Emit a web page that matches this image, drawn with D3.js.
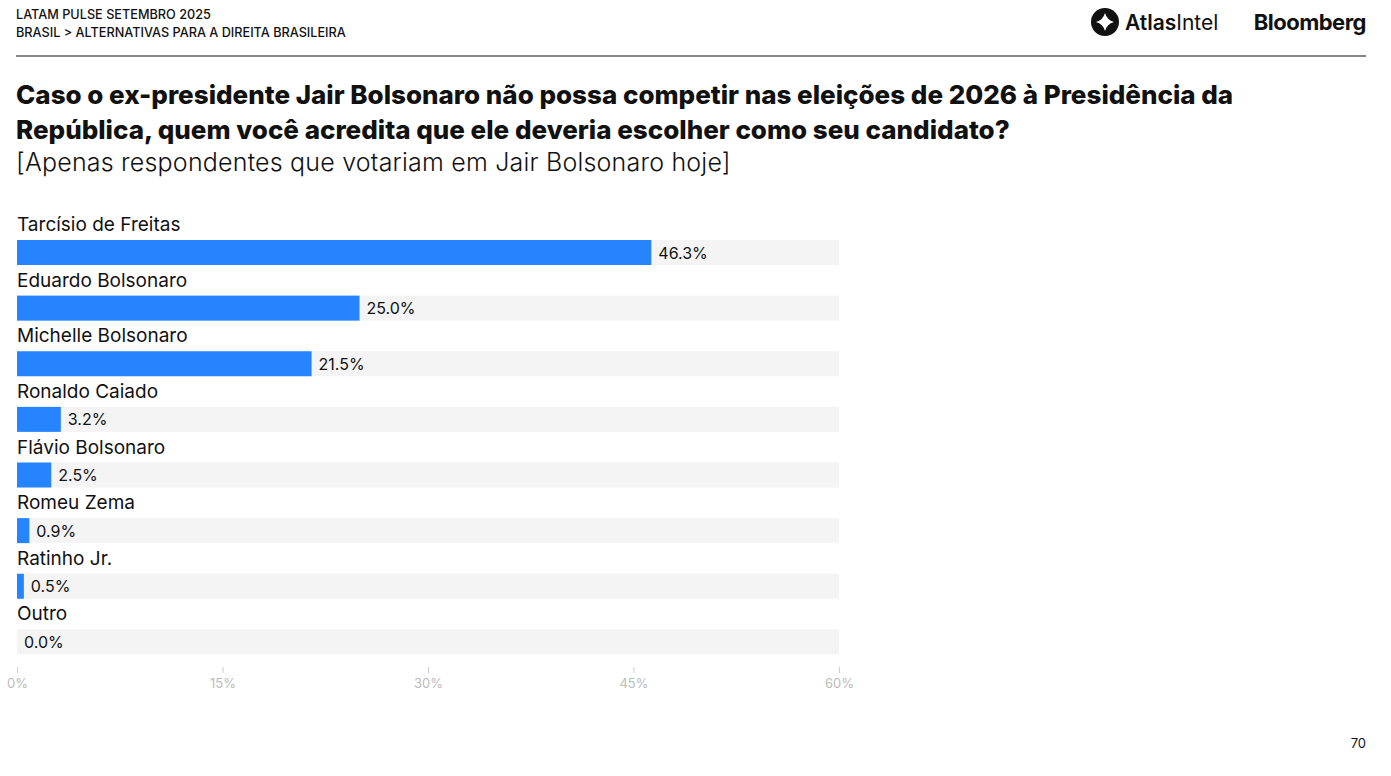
<!DOCTYPE html>
<html>
<head>
<meta charset="utf-8">
<script src="https://cdn.jsdelivr.net/npm/d3@7"></script>
<style>
  body { margin: 0; background: #fff; }
  svg { font-family: Inter, "Noto Sans", sans-serif; }
</style>
</head>
<body>
<div id="container"></div>
<script>
let w = 1391;
let h = 776;

// DATA
let candidates = ["Tarcísio de Freitas", "Eduardo Bolsonaro", "Michelle Bolsonaro", "Ronaldo Caiado",
  "Flávio Bolsonaro", "Romeu Zema", "Ratinho Jr.", "Outro"];
let shares = [46.3, 25.0, 21.5, 3.2, 2.5, 0.9, 0.5, 0.0];
let ticks = [0, 15, 30, 45, 60];

let viz = d3.select("#container").append("svg")
    .attr("width", w)
    .attr("height", h)
    .style("background-color", "white");

// HEADER
viz.append("text").attr("x", 16).attr("y", 19).attr("font-size", 12.7).attr("font-weight", 500)
  .attr("fill", "#111").text("LATAM PULSE SETEMBRO 2025");
viz.append("text").attr("x", 16).attr("y", 37).attr("font-size", 12.7).attr("font-weight", 500)
  .attr("fill", "#111").text("BRASIL > ALTERNATIVAS PARA A DIREITA BRASILEIRA");
viz.append("line").attr("x1", 16).attr("x2", 1366).attr("y1", 56).attr("y2", 56)
  .attr("stroke", "#888").attr("stroke-width", 2);

// logos
let logo = viz.append("g").attr("transform", "translate(1105,22)");
logo.append("circle").attr("r", 14).attr("fill", "#111");
logo.append("path")
  .attr("d", "M0,-9 Q2,-2 9,0 Q2,2 0,9 Q-2,2 -9,0 Q-2,-2 0,-9Z")
  .attr("fill", "white");
let atlas = viz.append("text").attr("x", 1125).attr("y", 30).attr("font-size", 21).attr("fill", "#111");
atlas.append("tspan").attr("font-weight", 600).text("Atlas");
atlas.append("tspan").attr("font-weight", 400).text("Intel");
viz.append("text").attr("x", 1366).attr("y", 30).attr("text-anchor", "end").attr("font-size", 22)
  .attr("font-weight", 700).attr("fill", "#111").attr("letter-spacing", -0.5).text("Bloomberg");

// TITLE
viz.append("text").attr("x", 16).attr("y", 104).attr("font-size", 26).attr("font-weight", 800)
  .attr("fill", "#111").attr("letter-spacing", 0)
  .text("Caso o ex-presidente Jair Bolsonaro não possa competir nas eleições de 2026 à Presidência da");
viz.append("text").attr("x", 16).attr("y", 139).attr("font-size", 26).attr("font-weight", 800)
  .attr("fill", "#111").attr("letter-spacing", 0)
  .text("República, quem você acredita que ele deveria escolher como seu candidato?");
viz.append("text").attr("x", 16).attr("y", 171).attr("font-size", 25).attr("font-weight", 300)
  .attr("fill", "#111").attr("letter-spacing", 0.2)
  .text("[Apenas respondentes que votariam em Jair Bolsonaro hoje]");

// SCALES
let xScale = d3.scaleLinear().domain([0, 60]).range([17, 839]);
let yScale = d3.scaleBand().domain(candidates).range([212, 657]).paddingInner(0).paddingOuter(0);
let barH = 25;
let barOff = 28;

let rows = viz.selectAll(".row").data(candidates).enter().append("g")
  .attr("class", "row")
  .attr("transform", function(d){ return "translate(0," + yScale(d) + ")"; });

rows.append("rect")
  .attr("x", xScale(0)).attr("y", barOff)
  .attr("width", xScale(60) - xScale(0)).attr("height", barH)
  .attr("fill", "#f4f4f4");

rows.append("rect")
  .attr("x", xScale(0)).attr("y", barOff)
  .attr("width", function(d, i){ return xScale(shares[i]) - xScale(0); })
  .attr("height", barH)
  .attr("fill", "#2684ff");

rows.append("text")
  .attr("x", 17).attr("y", 19)
  .attr("font-size", 19).attr("fill", "#111")
  .text(function(d){ return d; });

rows.append("text")
  .attr("x", function(d, i){ return xScale(shares[i]) + 7; })
  .attr("y", barOff + barH / 2 + 6)
  .attr("font-size", 16).attr("fill", "#111")
  .text(function(d, i){ return shares[i].toFixed(1) + "%"; });

// AXIS
let axis = viz.append("g").attr("transform", "translate(0,667)")
  .call(d3.axisBottom(xScale).tickValues(ticks).tickSize(6).tickFormat(function(d){ return d + "%"; }));
axis.select(".domain").remove();
axis.selectAll(".tick line").attr("stroke", "#ccc");
axis.selectAll(".tick text").attr("fill", "#bbb").attr("font-size", 13)
  .attr("font-family", "Inter, sans-serif").attr("dy", "0.9em");

// page number
viz.append("text").attr("x", 1366).attr("y", 748).attr("text-anchor", "end").attr("font-size", 13)
  .attr("fill", "#111").text("70");
</script>
</body>
</html>
